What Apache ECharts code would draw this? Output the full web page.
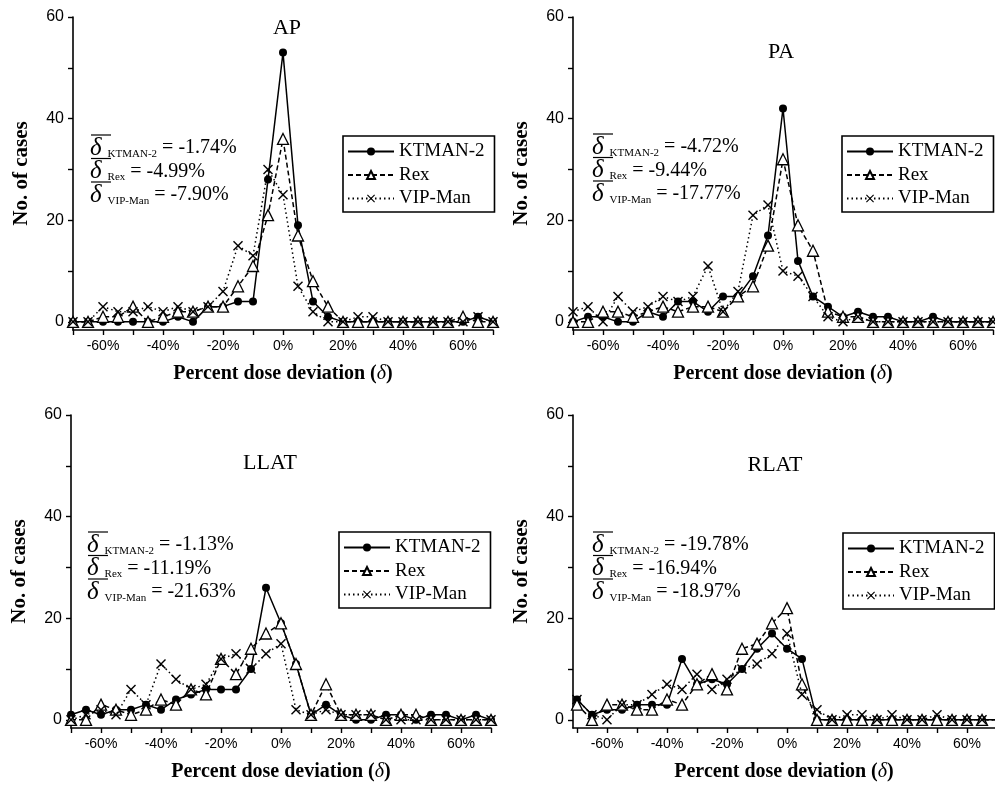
<!DOCTYPE html>
<html><head><meta charset="utf-8">
<script src="https://cdn.jsdelivr.net/npm/echarts@6/dist/echarts.min.js"></script>
<style>html,body{margin:0;padding:0;background:#fff}#c{width:995px;height:785px}</style>
</head><body><div id="c"></div>
<script>
// ---- data ----
const deviations = [-70,-65,-60,-55,-50,-45,-40,-35,-30,-25,-20,-15,-10,-5,0,5,10,15,20,25,30,35,40,45,50,55,60,65,70];
const seriesNames = ['KTMAN-2','Rex','VIP-Man'];
const panelTitles = ['AP','PA','LLAT','RLAT'];

const apKtman  = [0,0,0,0,0,0,0,1,0,3,3,4,4,28,53,19,4,1,0,0,0,0,0,0,0,0,0,1,0];
const apRex    = [0,0,1,1,3,0,1,2,2,3,3,7,11,21,36,17,8,3,0,0,0,0,0,0,0,0,1,0,0];
const apVip    = [0,0,3,2,2,3,2,3,2,3,6,15,13,30,25,7,2,0,0,1,1,0,0,0,0,0,0,1,0];

const paKtman  = [0,1,1,0,0,2,1,4,4,2,5,5,9,17,42,12,5,3,1,2,1,1,0,0,1,0,0,0,0];
const paRex    = [0,0,2,2,1,2,3,2,3,3,2,5,7,15,32,19,14,2,1,1,0,0,0,0,0,0,0,0,0];
const paVip    = [2,3,0,5,2,3,5,4,5,11,2,6,21,23,10,9,5,1,0,1,0,0,0,0,0,0,0,0,0];

const llatKtman = [1,2,1,2,2,3,2,4,5,6,6,6,10,26,19,11,1,3,1,0,0,1,1,0,1,1,0,1,0];
const llatRex   = [0,0,3,2,1,2,4,3,6,5,12,9,14,17,19,11,1,7,1,1,1,0,1,1,0,0,0,0,0];
const llatVip   = [0,1,2,1,6,3,11,8,6,7,12,13,10,13,15,2,1,2,1,1,1,0,0,0,0,0,0,0,0];

const rlatKtman = [4,1,2,2,3,3,3,12,7,8,7,10,14,17,14,12,0,0,0,0,0,0,0,0,0,0,0,0,0];
const rlatRex   = [3,0,3,3,2,2,4,3,7,9,6,14,15,19,22,7,0,0,0,0,0,0,0,0,0,0,0,0,0];
const rlatVip   = [4,1,0,3,3,5,7,6,9,6,8,10,11,13,17,5,2,0,1,1,0,1,0,0,1,0,0,0,0];

const apMeans   = ['-1.74%','-4.99%','-7.90%'];
const paMeans   = ['-4.72%','-9.44%','-17.77%'];
const llatMeans = ['-1.13%','-11.19%','-21.63%'];
const rlatMeans = ['-19.78%','-16.94%','-18.97%'];

const xTickValues  = [-70,-60,-50,-40,-30,-20,-10,0,10,20,30,40,50,60,70];
const xLabelValues = [-60,-40,-20,0,20,40,60];
const yTickValues  = [0,10,20,30,40,50,60];
const yLabelValues = [0,20,40,60];

const panelData = [
  [apKtman, apRex, apVip],
  [paKtman, paRex, paVip],
  [llatKtman, llatRex, llatVip],
  [rlatKtman, rlatRex, rlatVip]
];
const panelMeans = [apMeans, paMeans, llatMeans, rlatMeans];

// ---- layout / style ----
const layout = [
  {grid:{left:73, top:17, width:420, height:313}, xMin:-70, xMax:70, title:[287,28], ann:[90,148], legend:[343,136]},
  {grid:{left:573, top:17, width:420, height:313}, xMin:-70, xMax:70, title:[781,52], ann:[592,147], legend:[842,136]},
  {grid:{left:71, top:415, width:420, height:313}, xMin:-70, xMax:70, title:[270,463], ann:[87,545], legend:[339,532]},
  {grid:{left:573, top:415, width:422, height:313}, xMin:-71.33, xMax:69.33, title:[775,465], ann:[592,545], legend:[843,533]}
];
const SERIF = 'Liberation Serif';
const SANS = 'Liberation Sans';
const xSymbol = 'path://M0,1L1,0L5,4L9,0L10,1L6,5L10,9L9,10L5,6L1,10L0,9L4,5Z';
const seriesStyles = [
  {symbol:'circle', symbolSize:8, itemStyle:{color:'#000'}, lineStyle:{color:'#000', width:1.5, type:'solid'}},
  {symbol:'triangle', symbolSize:11, itemStyle:{color:'#fff', borderColor:'#000', borderWidth:1.3}, lineStyle:{color:'#000', width:1.5, type:[5,3]}},
  {symbol:xSymbol, symbolSize:10, itemStyle:{color:'#000'}, lineStyle:{color:'#000', width:1.5, type:[1.5,3]}}
];

const grids = [], xAxes = [], yAxes = [], series = [], legends = [], graphics = [];
layout.forEach((L, p) => {
  grids.push(Object.assign({}, L.grid));
  xAxes.push({
    type:'value', gridIndex:p, min:L.xMin, max:L.xMax,
    axisLine:{onZero:false, lineStyle:{color:'#000', width:1.6}},
    axisTick:{customValues:xTickValues, length:5, lineStyle:{color:'#000', width:1.4}},
    axisLabel:{customValues:xLabelValues, formatter:v => v + '%', fontFamily:SANS, fontSize:14, color:'#000', margin:9},
    splitLine:{show:false},
    name:'Percent dose deviation ({i|δ})', nameLocation:'middle', nameGap:34,
    nameTextStyle:{fontFamily:SERIF, fontWeight:'bold', fontSize:20, color:'#000',
      rich:{i:{fontFamily:SERIF, fontStyle:'italic', fontWeight:'normal', fontSize:20, color:'#000'}}}
  });
  yAxes.push({
    type:'value', gridIndex:p, min:-1.6, max:60,
    axisLine:{show:true, onZero:false, lineStyle:{color:'#000', width:1.6}},
    axisTick:{show:true, customValues:yTickValues, length:5, lineStyle:{color:'#000', width:1.4}},
    axisLabel:{customValues:yLabelValues, fontFamily:SANS, fontSize:16, color:'#000', margin:9},
    splitLine:{show:false},
    name:'No. of cases', nameLocation:'middle', nameGap:41,
    nameTextStyle:{fontFamily:SERIF, fontWeight:'bold', fontSize:21, color:'#000'}
  });
  panelData[p].forEach((vals, s) => {
    series.push(Object.assign({
      name:seriesNames[s], type:'line', xAxisIndex:p, yAxisIndex:p,
      data:deviations.map((d, i) => [d, vals[i]]), z:2 + s
    }, JSON.parse(JSON.stringify(seriesStyles[s]))));
  });
  legends.push({
    data:seriesNames, orient:'vertical', left:L.legend[0], top:L.legend[1],
    borderColor:'#000', borderWidth:1.6, padding:[6,10,4,4], itemGap:4.5,
    itemWidth:46, itemHeight:10, selectedMode:false, backgroundColor:'#fff',
    textStyle:{fontFamily:SERIF, fontSize:19, color:'#000'}
  });
  graphics.push({type:'text', x:L.title[0], y:L.title[1],
    style:{text:panelTitles[p], fontFamily:SERIF, fontSize:22, fill:'#000', align:'center', verticalAlign:'middle'}});
  seriesNames.forEach((nm, i) => {
    const y = L.ann[1] + i * 23.5;
    graphics.push({type:'text', x:L.ann[0], y:y,
      style:{text:'{d|δ}{s|' + nm + '}{v|= ' + panelMeans[p][i] + '}', verticalAlign:'middle', align:'left',
        rich:{
          d:{fontFamily:SERIF, fontStyle:'italic', fontSize:25, fill:'#000', verticalAlign:'middle'},
          s:{fontFamily:SERIF, fontSize:11, fill:'#000', verticalAlign:'bottom', padding:[0,5,1,6]},
          v:{fontFamily:SERIF, fontSize:20, fill:'#000', verticalAlign:'middle'}
        }}});
    graphics.push({type:'line', shape:{x1:L.ann[0] + 1, y1:y - 13, x2:L.ann[0] + 21, y2:y - 13},
      style:{stroke:'#000', lineWidth:1.2}});
  });
});

const chart = echarts.init(document.getElementById('c'), null, {renderer:'canvas'});
chart.setOption({
  animation:false, backgroundColor:'#fff',
  grid:grids, xAxis:xAxes, yAxis:yAxes, series:series, legend:legends, graphic:graphics
});
</script></body></html>
